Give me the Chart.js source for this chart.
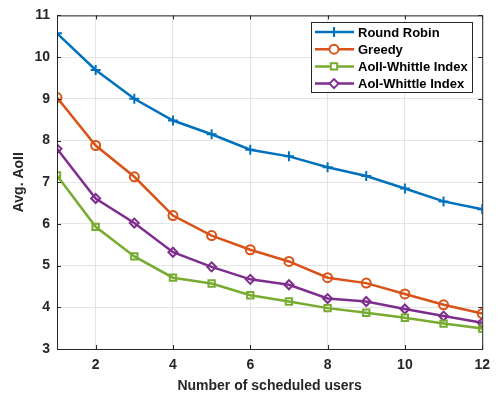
<!DOCTYPE html>
<html>
<head>
<meta charset="utf-8">
<script src="https://cdn.jsdelivr.net/npm/chart.js@4.4.0/dist/chart.umd.min.js"></script>
<style>
  html, body { margin: 0; padding: 0; background: #fff; }
  #wrap { width: 498px; height: 399px; }
</style>
</head>
<body>
<div id="wrap"><canvas id="myChart" width="498" height="399"></canvas></div>
<script>
const users = [1, 2, 3, 4, 5, 6, 7, 8, 9, 10, 11, 12];
const roundRobin = [10.57, 9.69, 9.0, 8.48, 8.15, 7.78, 7.62, 7.36, 7.15, 6.85, 6.54, 6.35];
const greedy = [9.03, 7.88, 7.13, 6.2, 5.72, 5.38, 5.1, 4.71, 4.58, 4.32, 4.06, 3.85];
const aoiiWhittle = [7.16, 5.93, 5.22, 4.71, 4.57, 4.29, 4.14, 3.98, 3.87, 3.75, 3.61, 3.49];
const aoiWhittle = [7.8, 6.61, 6.02, 5.32, 4.97, 4.67, 4.54, 4.21, 4.14, 3.96, 3.79, 3.63];
const xTicks = [2, 4, 6, 8, 10, 12];
const yTicks = [3, 4, 5, 6, 7, 8, 9, 10, 11];

const FONT = 'Liberation Sans, Arial, sans-serif';
const AXIS_COLOR = '#262626';

function series(label, values, color, style) {
    return {
        label: label,
        data: users.map((u, i) => ({ x: u, y: values[i] })),
        borderColor: color,
        backgroundColor: 'rgba(0,0,0,0)',
        borderWidth: 2.5,
        pointStyle: style,
        pointRadius: style === 'cross' ? 5 : 4.5,
        pointBorderWidth: 2,
        pointBorderColor: color,
        pointBackgroundColor: 'rgba(0,0,0,0)',
        tension: 0
    };
}

// box frame, inward ticks and legend drawn like the MATLAB figure
const framePlugin = {
    id: 'frame',
    afterDraw(chart) {
        const ctx = chart.ctx;
        const a = chart.chartArea;
        const xs = chart.scales.x, ys = chart.scales.y;
        ctx.save();
        ctx.strokeStyle = AXIS_COLOR;
        ctx.lineWidth = 1;
        ctx.strokeRect(a.left + 0.5, a.top + 0.5, a.right - a.left, a.bottom - a.top);
        ctx.beginPath();
        xTicks.forEach(v => {
            const px = Math.round(xs.getPixelForValue(v)) + 0.5;
            ctx.moveTo(px, a.bottom); ctx.lineTo(px, a.bottom - 4);
            ctx.moveTo(px, a.top); ctx.lineTo(px, a.top + 4);
        });
        yTicks.forEach(v => {
            const py = Math.round(ys.getPixelForValue(v)) + 0.5;
            ctx.moveTo(a.left, py); ctx.lineTo(a.left + 4, py);
            ctx.moveTo(a.right, py); ctx.lineTo(a.right - 4, py);
        });
        ctx.stroke();

        // legend
        const lx = 311, ly = 22, lw = 161, lh = 70;
        ctx.fillStyle = '#fff';
        ctx.fillRect(lx, ly, lw, lh);
        ctx.strokeStyle = '#262626';
        ctx.strokeRect(lx + 0.5, ly + 0.5, lw, lh);
        ctx.font = 'bold 13px ' + FONT;
        ctx.textBaseline = 'middle';
        chart.data.datasets.forEach((ds, i) => {
            const cy = ly + 10 + i * 17.2;
            ctx.strokeStyle = ds.borderColor;
            ctx.lineWidth = 2.5;
            ctx.beginPath();
            ctx.moveTo(lx + 4, cy); ctx.lineTo(lx + 43, cy);
            ctx.stroke();
            ctx.lineWidth = 2;
            ctx.fillStyle = '#fff';
            Chart.helpers.drawPoint(ctx, { pointStyle: ds.pointStyle, radius: ds.pointRadius, borderWidth: 2 }, lx + 23, cy);
            ctx.fillStyle = '#000';
            ctx.fillText(ds.label, lx + 47, cy + 1);
        });
        ctx.restore();
    }
};

const chart = new Chart(document.getElementById('myChart').getContext('2d'), {
    type: 'line',
    data: {
        datasets: [
            series('Round Robin', roundRobin, '#0072BD', 'cross'),
            series('Greedy', greedy, '#D95319', 'circle'),
            series('AoII-Whittle Index', aoiiWhittle, '#77AC30', 'rect'),
            series('AoI-Whittle Index', aoiWhittle, '#7E2F8E', 'rectRot')
        ]
    },
    options: {
        responsive: false,
        animation: false,
        layout: { padding: { top: 10, right: 12, left: 0, bottom: 0 } },
        plugins: { legend: { display: false }, tooltip: { enabled: false } },
        scales: {
            x: {
                type: 'linear',
                min: 1,
                max: 12,
                afterBuildTicks: s => { s.ticks = xTicks.map(v => ({ value: v })); },
                afterFit: s => { s.height = 50; },
                grid: { color: '#e5e5e5', drawTicks: false },
                border: { display: false },
                ticks: { font: { family: FONT, size: 14, weight: 'bold' }, color: AXIS_COLOR, padding: 8 },
                title: { display: true, text: 'Number of scheduled users', font: { family: FONT, size: 14, weight: 'bold' }, color: AXIS_COLOR, padding: { top: 0 } }
            },
            y: {
                min: 3,
                max: 11,
                afterBuildTicks: s => { s.ticks = yTicks.map(v => ({ value: v })); },
                afterFit: s => { s.width = 57; },
                grid: { color: '#e5e5e5', drawTicks: false },
                border: { display: false },
                ticks: { font: { family: FONT, size: 14, weight: 'bold' }, color: AXIS_COLOR, padding: 7 },
                title: { display: true, text: 'Avg. AoII', font: { family: FONT, size: 14, weight: 'bold' }, color: AXIS_COLOR, padding: { top: 11, bottom: 0 } }
            }
        }
    },
    plugins: [framePlugin]
});
</script>
</body>
</html>
